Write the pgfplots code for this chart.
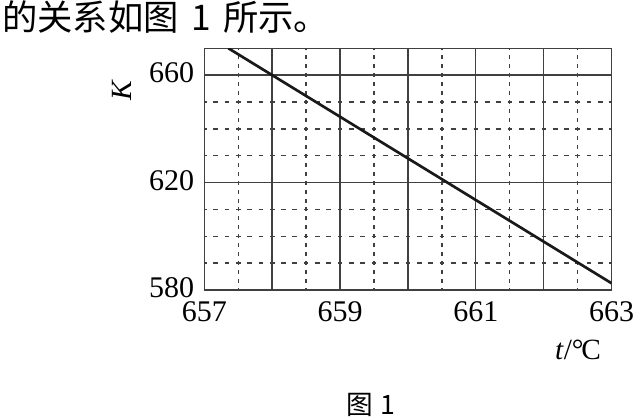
\documentclass[border=0pt]{standalone}
\usepackage{fontspec}
\setmainfont{Liberation Serif}
\newfontfamily\cjk{Noto Sans CJK SC}
\usepackage{pgfplots}
\pgfplotsset{compat=1.18}
\begin{document}
\begin{tikzpicture}
\path[use as bounding box] (0,0) rectangle (480pt,312.75pt);
\begin{axis}[
  at={(153.2pt,95.25pt)}, anchor=south west,
  scale only axis,
  width=305.5pt, height=181.3pt,
  xmin=657, xmax=663, ymin=580, ymax=670,
  xtick={657,658,...,663},
  xticklabels={657,,659,,661,,663},
  ytick={580,620,660},
  minor x tick num=1,
  minor y tick num=3,
  major tick length=0pt, minor tick length=0pt,
  xmajorgrids, ymajorgrids, xminorgrids, yminorgrids,
  major grid style={black!75, line width=1pt},
  minor x grid style={black!75, line width=1pt, dash pattern=on 3pt off 3.71pt, dash phase=1.5pt},
  minor y grid style={black!75, line width=1pt, dash pattern=on 3.5pt off 4.99pt, dash phase=1.75pt},
  axis line style={black!75, line width=1pt},
  /pgf/number format/assume math mode=true,
  /pgf/number format/set thousands separator={},
  tick label style={font=\fontsize{22.5}{24}\selectfont},
  yticklabel style={xshift=-4pt, yshift=1.5pt},
  xticklabel style={yshift=-5.5pt},
]
\addplot[black!90, line width=2pt] coordinates {(657.355,670) (663,582.5)};
\end{axis}
\node[anchor=west, inner sep=0pt] at (1.5pt,300pt) {\cjk\fontsize{26.5}{28}\selectfont 的关系如图\hspace{0.35em}1\hspace{0.35em}所示。};
\node[rotate=90, inner sep=0pt, font=\fontsize{22}{24}\selectfont] at (91.5pt,245.25pt) {\textit{K}};
\node[inner sep=0pt, font=\fontsize{22}{24}\selectfont] at (433.5pt,50.25pt) {\textit{t}/°\kern-0.08em C};
\node[inner sep=0pt] at (278.25pt,9pt) {\cjk\fontsize{20}{22}\selectfont 图\hspace{0.3em}1};
\end{tikzpicture}
\end{document}
